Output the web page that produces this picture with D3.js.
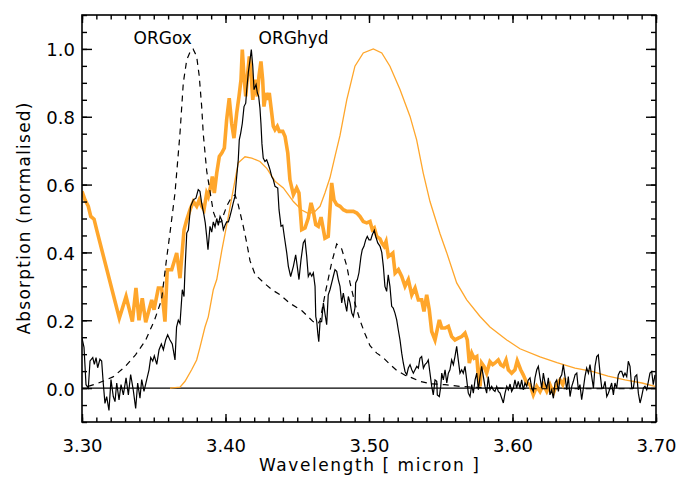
<!DOCTYPE html>
<html>
<head>
<meta charset="utf-8">
<script src="https://cdn.jsdelivr.net/npm/d3@7"></script>
<style>
  body { margin: 0; background: #fff; }
  svg { display: block; font-family: "DejaVu Sans", sans-serif; }
</style>
</head>
<body>
<div id="chart"></div>
<script>
// Absorption spectra, normalised, 3.3 - 3.7 micron

const xMajorTicks = [3.30, 3.40, 3.50, 3.60, 3.70];
const yMajorTicks = [0.0, 0.2, 0.4, 0.6, 0.8, 1.0];

const seriesLabels = [
  { text: 'ORGox', wl: 3.3766, val: 1.015, anchor: 'end' },
  { text: 'ORGhyd', wl: 3.4230, val: 1.015, anchor: 'start' }
];

// black solid: laboratory spectrum (ORGhyd)
const orgHydSpectrum = [
  [3.3000,0.147],[3.3014,0.12],[3.3028,0.01],[3.3044,0.0],[3.3056,0.08],[3.3075,0.09],[3.3086,0.07],
  [3.3098,0.09],[3.3109,0.06],[3.3125,0.085],[3.3137,0.08],[3.3148,0.015],[3.3160,-0.045],[3.3172,-0.025],
  [3.3188,-0.066],[3.3202,0.025],[3.3218,-0.025],[3.3230,-0.04],[3.3242,0.015],[3.3258,-0.035],[3.3272,0.01],
  [3.3288,-0.02],[3.3307,0.03],[3.3323,-0.02],[3.3339,0.04],[3.3357,-0.005],[3.3374,-0.06],[3.3388,0.015],
  [3.3404,-0.03],[3.3416,0.025],[3.3432,-0.01],[3.3451,0.025],[3.3467,0.054],[3.3479,0.09],[3.3493,0.08],
  [3.3504,0.095],[3.3521,0.07],[3.3537,0.113],[3.3553,0.13],[3.3567,0.113],[3.3583,0.142],[3.3597,0.157],
  [3.3613,0.142],[3.3629,0.13],[3.3648,0.083],[3.3659,0.18],[3.3671,0.20],[3.3683,0.19],[3.3699,0.29],
  [3.3711,0.27],[3.3718,0.35],[3.3730,0.457],[3.3741,0.466],[3.3757,0.536],[3.3776,0.555],[3.3794,0.56],
  [3.3810,0.585],[3.3822,0.58],[3.3834,0.545],[3.3850,0.51],[3.3859,0.487],[3.3869,0.447],[3.3878,0.408],
  [3.3892,0.477],[3.3904,0.46],[3.3915,0.49],[3.3927,0.475],[3.3939,0.50],[3.3950,0.48],[3.3962,0.506],
  [3.3974,0.495],[3.3985,0.467],[3.3997,0.48],[3.4008,0.49],[3.4020,0.49],[3.4031,0.506],[3.4043,0.526],
  [3.4054,0.546],[3.4066,0.565],[3.4078,0.624],[3.4089,0.673],[3.4096,0.732],[3.4106,0.752],[3.4117,0.78],
  [3.4129,0.83],[3.4141,0.84],[3.4148,0.88],[3.4159,0.93],[3.4171,0.968],[3.4180,0.998],[3.4190,0.949],
  [3.4199,0.88],[3.4213,0.895],[3.4222,0.87],[3.4231,0.86],[3.4240,0.826],[3.4247,0.78],[3.4254,0.72],
  [3.4263,0.678],[3.4275,0.668],[3.4287,0.673],[3.4298,0.66],[3.4310,0.644],[3.4322,0.624],[3.4333,0.615],
  [3.4345,0.595],[3.4364,0.59],[3.4373,0.526],[3.4387,0.477],[3.4399,0.48],[3.4410,0.447],[3.4427,0.398],
  [3.4438,0.359],[3.4454,0.329],[3.4473,0.359],[3.4489,0.393],[3.4500,0.359],[3.4512,0.32],[3.4526,0.378],
  [3.4542,0.428],[3.4554,0.437],[3.4566,0.388],[3.4577,0.329],[3.4589,0.34],[3.4601,0.33],[3.4612,0.34],
  [3.4624,0.30],[3.4629,0.211],[3.4636,0.196],[3.4643,0.162],[3.4650,0.137],[3.4659,0.196],[3.4670,0.196],
  [3.4682,0.251],[3.4693,0.22],[3.4705,0.187],[3.4716,0.275],[3.4728,0.29],[3.4740,0.31],[3.4751,0.329],
  [3.4763,0.349],[3.4775,0.344],[3.4786,0.32],[3.4798,0.30],[3.4810,0.251],[3.4821,0.28],[3.4833,0.251],
  [3.4845,0.226],[3.4856,0.27],[3.4868,0.251],[3.4880,0.221],[3.4891,0.211],[3.4902,0.236],[3.4907,0.31],
  [3.4919,0.32],[3.4930,0.34],[3.4944,0.388],[3.4953,0.408],[3.4965,0.418],[3.4977,0.437],[3.4988,0.447],
  [3.5000,0.437],[3.5012,0.437],[3.5023,0.452],[3.5037,0.465],[3.5047,0.447],[3.5061,0.428],[3.5077,0.418],
  [3.5089,0.40],[3.5100,0.359],[3.5111,0.30],[3.5123,0.285],[3.5134,0.334],[3.5146,0.30],[3.5158,0.241],
  [3.5169,0.236],[3.5181,0.221],[3.5193,0.201],[3.5204,0.172],[3.5216,0.142],[3.5228,0.103],[3.5239,0.074],
  [3.5251,0.049],[3.5263,0.039],[3.5274,0.059],[3.5286,0.069],[3.5298,0.054],[3.5309,0.044],[3.5321,0.054],
  [3.5333,0.064],[3.5344,0.059],[3.5355,0.088],[3.5367,0.093],[3.5379,0.059],[3.5390,0.069],[3.5402,0.074],
  [3.5413,0.083],[3.5425,0.044],[3.5437,0.005],[3.5448,-0.02],[3.5460,0.024],[3.5472,0.02],[3.5476,-0.02],
  [3.5490,-0.025],[3.5500,0.005],[3.5507,0.044],[3.5518,0.024],[3.5530,0.054],[3.5542,0.015],[3.5553,0.044],
  [3.5564,0.054],[3.5576,0.083],[3.5588,0.069],[3.5599,0.093],[3.5611,0.123],[3.5622,0.083],[3.5634,0.044],
  [3.5646,0.054],[3.5657,0.044],[3.5669,0.064],[3.5681,0.024],[3.5692,-0.015],[3.5704,-0.025],[3.5716,0.01],
  [3.5727,-0.015],[3.5739,0.024],[3.5751,0.044],[3.5762,-0.005],[3.5774,0.034],[3.5785,0.064],[3.5797,0.034],
  [3.5808,0.005],[3.5820,-0.015],[3.5831,0.034],[3.5843,-0.005],[3.5855,0.005],[3.5866,-0.005],[3.5878,-0.01],
  [3.5890,0.005],[3.5901,-0.01],[3.5913,-0.015],[3.5925,-0.03],[3.5936,-0.044],[3.5948,-0.015],[3.5960,0.005],
  [3.5971,-0.005],[3.5983,0.012],[3.5994,-0.01],[3.6006,0.0],[3.6017,0.024],[3.6029,0.0],[3.6040,0.02],
  [3.6052,0.0],[3.6064,0.024],[3.6075,-0.005],[3.6087,0.015],[3.6099,0.005],[3.6110,0.024],[3.6122,0.03],
  [3.6134,0.0],[3.6145,-0.01],[3.6157,0.03],[3.6169,0.054],[3.6180,0.064],[3.6192,0.03],[3.6204,0.0],
  [3.6215,0.044],[3.6227,0.015],[3.6239,0.0],[3.6250,0.03],[3.6261,-0.02],[3.6273,-0.005],[3.6285,-0.03],
  [3.6296,0.015],[3.6308,0.024],[3.6320,-0.01],[3.6331,0.03],[3.6343,0.039],[3.6354,0.069],[3.6366,0.034],
  [3.6378,-0.005],[3.6389,0.034],[3.6401,-0.025],[3.6413,0.005],[3.6424,0.02],[3.6436,0.039],[3.6448,0.044],
  [3.6459,-0.005],[3.6470,0.01],[3.6482,-0.034],[3.6494,0.0],[3.6505,0.034],[3.6517,0.059],[3.6529,0.044],
  [3.6540,0.069],[3.6552,0.034],[3.6564,0.0],[3.6575,0.064],[3.6587,0.093],[3.6598,0.098],[3.6610,0.044],
  [3.6622,0.0],[3.6633,0.0],[3.6645,0.02],[3.6657,-0.025],[3.6668,-0.015],[3.6680,0.0],[3.6691,0.015],
  [3.6703,-0.02],[3.6714,0.015],[3.6726,0.0],[3.6737,0.039],[3.6749,0.049],[3.6761,0.049],[3.6773,0.034],
  [3.6784,0.044],[3.6796,0.034],[3.6807,0.079],[3.6819,0.064],[3.6831,0.0],[3.6842,0.0],[3.6854,0.034],
  [3.6866,0.039],[3.6877,-0.015],[3.6889,-0.044],[3.6900,-0.025],[3.6912,0.0],[3.6923,0.005],[3.6935,-0.005],
  [3.6947,0.02],[3.6958,0.044],[3.6970,0.049],[3.6981,0.01],[3.6993,0.039]
];

// black dashed: ORGox profile
const orgOxProfile = [
  [3.3042,0.005],[3.3105,0.013],[3.3216,0.033],[3.3300,0.063],[3.3373,0.098],[3.3442,0.14],[3.3505,0.20],
  [3.3554,0.26],[3.3589,0.38],[3.3613,0.457],[3.3648,0.575],[3.3683,0.752],[3.3706,0.90],[3.3730,0.968],
  [3.3760,0.998],[3.3774,1.0],[3.3799,0.978],[3.3817,0.92],[3.3834,0.83],[3.3845,0.75],[3.3869,0.64],
  [3.3892,0.58],[3.3915,0.52],[3.3941,0.49],[3.3969,0.49],[3.4008,0.536],[3.4038,0.56],[3.4066,0.57],
  [3.4089,0.54],[3.4124,0.477],[3.4148,0.428],[3.4171,0.375],[3.4206,0.335],[3.4263,0.312],[3.4324,0.29],
  [3.4380,0.275],[3.4449,0.25],[3.4533,0.228],[3.4610,0.196],[3.4645,0.19],[3.4659,0.20],[3.4700,0.29],
  [3.4740,0.37],[3.4775,0.425],[3.4810,0.41],[3.4845,0.36],[3.4868,0.31],[3.4902,0.25],[3.4937,0.20],
  [3.4972,0.16],[3.5007,0.125],[3.5054,0.103],[3.5098,0.09],[3.5146,0.07],[3.5193,0.052],[3.5251,0.038],
  [3.5300,0.03],[3.5355,0.02],[3.5425,0.013],[3.5530,0.01],[3.5634,0.005],[3.5843,0.0],[3.6122,-0.002],
  [3.6470,-0.002],[3.6840,-0.002]
];

// thick orange: observed spectrum, binned
const observedBinned = [
  [3.3000,0.58],[3.3021,0.555],[3.3044,0.536],[3.3061,0.506],[3.3084,0.498],[3.3102,0.467],[3.3260,0.206],
  [3.3307,0.27],[3.3351,0.196],[3.3376,0.295],[3.3397,0.20],[3.3420,0.265],[3.3444,0.194],[3.3486,0.26],
  [3.3502,0.231],[3.3532,0.295],[3.3555,0.295],[3.3578,0.196],[3.3594,0.349],[3.3625,0.349],[3.3660,0.398],
  [3.3683,0.324],[3.3711,0.467],[3.3730,0.496],[3.3753,0.526],[3.3776,0.55],[3.3799,0.536],[3.3817,0.555],
  [3.3834,0.536],[3.3850,0.526],[3.3869,0.575],[3.3880,0.565],[3.3897,0.595],[3.3908,0.624],[3.3922,0.575],
  [3.3939,0.634],[3.3957,0.683],[3.3974,0.693],[3.3992,0.708],[3.4008,0.791],[3.4026,0.855],[3.4043,0.78],
  [3.4059,0.737],[3.4078,0.811],[3.4094,0.86],[3.4108,0.909],[3.4117,0.998],[3.4129,0.919],[3.4141,0.86],
  [3.4155,0.929],[3.4166,0.978],[3.4178,0.929],[3.4190,0.85],[3.4206,0.909],[3.4222,0.86],[3.4233,0.919],
  [3.4247,0.963],[3.4259,0.909],[3.4268,0.83],[3.4282,0.87],[3.4294,0.85],[3.4305,0.87],[3.4322,0.811],
  [3.4333,0.772],[3.4345,0.762],[3.4361,0.772],[3.4375,0.757],[3.4399,0.757],[3.4415,0.742],[3.4434,0.693],
  [3.4449,0.614],[3.4473,0.57],[3.4496,0.59],[3.4512,0.575],[3.4531,0.467],[3.4554,0.472],[3.4577,0.501],
  [3.4596,0.546],[3.4612,0.521],[3.4629,0.482],[3.4647,0.477],[3.4666,0.504],[3.4682,0.467],[3.4693,0.442],
  [3.4716,0.447],[3.4740,0.605],[3.4756,0.555],[3.4775,0.541],[3.4798,0.536],[3.4821,0.526],[3.4845,0.521],
  [3.4868,0.521],[3.4891,0.521],[3.4915,0.516],[3.4937,0.506],[3.4960,0.491],[3.4984,0.487],[3.5007,0.491],
  [3.5023,0.467],[3.5037,0.472],[3.5054,0.447],[3.5077,0.44],[3.5089,0.428],[3.5105,0.418],[3.5119,0.432],
  [3.5135,0.388],[3.5152,0.393],[3.5166,0.398],[3.5182,0.339],[3.5205,0.349],[3.5228,0.329],[3.5251,0.30],
  [3.5274,0.32],[3.5298,0.275],[3.5321,0.295],[3.5344,0.26],[3.5367,0.26],[3.5383,0.226],[3.5402,0.275],
  [3.5420,0.231],[3.5437,0.167],[3.5460,0.142],[3.5490,0.201],[3.5507,0.177],[3.5530,0.177],[3.5553,0.182],
  [3.5576,0.152],[3.5599,0.142],[3.5622,0.147],[3.5646,0.152],[3.5669,0.162],[3.5685,0.142],[3.5699,0.074],
  [3.5716,0.103],[3.5732,0.088],[3.5751,0.093],[3.5762,0.034],[3.5774,0.005],[3.5785,0.074],[3.5801,0.064],
  [3.5820,0.044],[3.5843,0.078],[3.5862,0.069],[3.5878,0.074],[3.5901,0.083],[3.5918,0.069],[3.5936,0.064],
  [3.5955,0.083],[3.5971,0.054],[3.5994,0.044],[3.6017,0.054],[3.6033,0.08],[3.6057,0.054],[3.6075,0.039],
  [3.6099,0.015],[3.6122,0.01],[3.6145,-0.02],[3.6169,0.005],[3.6192,-0.01],[3.6215,0.01],[3.6239,-0.01],
  [3.6261,0.01],[3.6285,-0.015],[3.6308,0.01],[3.6331,0.024],[3.6350,0.01],[3.6366,0.03]
];

// thin orange: smooth model profile
const modelProfile = [
  [3.3613,0.0],[3.3683,0.003],[3.3718,0.02],[3.3764,0.054],[3.3799,0.083],[3.3822,0.12],[3.3857,0.18],
  [3.3880,0.21],[3.3915,0.29],[3.3939,0.32],[3.3974,0.405],[3.4020,0.506],[3.4054,0.585],[3.4089,0.664],
  [3.4136,0.682],[3.4183,0.678],[3.4240,0.668],[3.4289,0.647],[3.4345,0.61],[3.4403,0.59],[3.4473,0.55],
  [3.4531,0.525],[3.4575,0.515],[3.4617,0.518],[3.4659,0.536],[3.4693,0.575],[3.4728,0.62],[3.4763,0.683],
  [3.4798,0.745],[3.4845,0.85],[3.4902,0.949],[3.4960,0.988],[3.5030,1.0],[3.5089,0.988],[3.5146,0.949],
  [3.5216,0.88],[3.5286,0.801],[3.5332,0.732],[3.5378,0.634],[3.5425,0.55],[3.5495,0.455],[3.5541,0.40],
  [3.5611,0.31],[3.5681,0.26],[3.5774,0.211],[3.5843,0.18],[3.5960,0.142],[3.6052,0.116],[3.6192,0.092],
  [3.6310,0.075],[3.6436,0.059],[3.6554,0.049],[3.6666,0.035],[3.6784,0.024],[3.6902,0.015],[3.6993,0.005]
];

const ORANGE = '#ffa62b';

function drawChart() {
  const W = 679, H = 477;
  const plot = { left: 82, right: 656, top: 15, bottom: 422 };

  const svg = d3.select('#chart').append('svg')
    .attr('width', W)
    .attr('height', H);

  const x = d3.scaleLinear().domain([3.30, 3.70]).range([plot.left, plot.right]);
  const y = d3.scaleLinear().domain([-0.1, 1.1]).range([plot.bottom, plot.top]);

  svg.append('defs').append('clipPath').attr('id', 'plot-clip')
    .append('rect')
    .attr('x', plot.left).attr('y', plot.top)
    .attr('width', plot.right - plot.left)
    .attr('height', plot.bottom - plot.top);

  const line = d3.line().x(d => x(d[0])).y(d => y(d[1]));

  const g = svg.append('g').attr('clip-path', 'url(#plot-clip)');

  // zero line
  g.append('line')
    .attr('x1', plot.left).attr('x2', plot.right)
    .attr('y1', y(0)).attr('y2', y(0))
    .attr('stroke', '#000').attr('stroke-width', 1.2);

  g.append('path').datum(modelProfile)
    .attr('d', line).attr('fill', 'none')
    .attr('stroke', ORANGE).attr('stroke-width', 1.3);

  g.append('path').datum(observedBinned)
    .attr('d', line).attr('fill', 'none')
    .attr('stroke', ORANGE).attr('stroke-width', 3.6)
    .attr('stroke-linejoin', 'miter');

  g.append('path').datum(orgOxProfile)
    .attr('d', line).attr('fill', 'none')
    .attr('stroke', '#000').attr('stroke-width', 1.2)
    .attr('stroke-dasharray', '6,5');

  g.append('path').datum(orgHydSpectrum)
    .attr('d', line).attr('fill', 'none')
    .attr('stroke', '#000').attr('stroke-width', 1.2);

  // axes (ticks point inward, mirrored on all sides)
  const xMinor = d3.range(41).map(i => 3.30 + i * 0.01);
  const yMinor = d3.range(25).map(i => -0.1 + i * 0.05);

  function styleAxis(sel) {
    sel.select('.domain').remove();
    sel.selectAll('line').attr('stroke', '#000').attr('stroke-width', 1.4);
  }

  // bottom
  svg.append('g').attr('transform', `translate(0,${plot.bottom})`)
    .call(d3.axisBottom(x).tickValues(xMinor).tickSize(-4.5).tickFormat(''))
    .call(styleAxis);
  const xAxisG = svg.append('g').attr('transform', `translate(0,${plot.bottom})`)
    .call(d3.axisBottom(x).tickValues(xMajorTicks).tickSize(-8).tickFormat(d3.format('.2f')))
    .call(styleAxis);
  xAxisG.selectAll('text')
    .attr('y', 30).attr('dy', null)
    .attr('fill', '#000')
    .style('font-size', '18px')
    .style('font-family', '"DejaVu Sans", sans-serif');

  // top
  svg.append('g').attr('transform', `translate(0,${plot.top})`)
    .call(d3.axisTop(x).tickValues(xMinor).tickSize(-4.5).tickFormat(''))
    .call(styleAxis);
  svg.append('g').attr('transform', `translate(0,${plot.top})`)
    .call(d3.axisTop(x).tickValues(xMajorTicks).tickSize(-8).tickFormat(''))
    .call(styleAxis);

  // left
  svg.append('g').attr('transform', `translate(${plot.left},0)`)
    .call(d3.axisLeft(y).tickValues(yMinor).tickSize(-5).tickFormat(''))
    .call(styleAxis);
  const yAxisG = svg.append('g').attr('transform', `translate(${plot.left},0)`)
    .call(d3.axisLeft(y).tickValues(yMajorTicks).tickSize(-10).tickFormat(d3.format('.1f')))
    .call(styleAxis);
  yAxisG.selectAll('text')
    .attr('x', -7).attr('dy', 7)
    .attr('fill', '#000')
    .style('font-size', '18px')
    .style('font-family', '"DejaVu Sans", sans-serif');

  // right
  svg.append('g').attr('transform', `translate(${plot.right},0)`)
    .call(d3.axisRight(y).tickValues(yMinor).tickSize(-5).tickFormat(''))
    .call(styleAxis);
  svg.append('g').attr('transform', `translate(${plot.right},0)`)
    .call(d3.axisRight(y).tickValues(yMajorTicks).tickSize(-10).tickFormat(''))
    .call(styleAxis);

  // frame
  svg.append('rect')
    .attr('x', plot.left).attr('y', plot.top)
    .attr('width', plot.right - plot.left)
    .attr('height', plot.bottom - plot.top)
    .attr('fill', 'none').attr('stroke', '#000').attr('stroke-width', 1.6);

  // axis titles
  svg.append('text')
    .attr('x', (plot.left + plot.right) / 2)
    .attr('y', 471)
    .attr('text-anchor', 'middle')
    .attr('textLength', 220)
    .attr('lengthAdjust', 'spacing')
    .style('font-size', '17px')
    .text('Wavelength [ micron ]');

  svg.append('text')
    .attr('transform', `translate(30,${(plot.top + plot.bottom) / 2}) rotate(-90)`)
    .attr('text-anchor', 'middle')
    .attr('textLength', 232)
    .attr('lengthAdjust', 'spacing')
    .style('font-size', '17px')
    .text('Absorption (normalised)');

  // series labels
  svg.selectAll('.series-label')
    .data(seriesLabels)
    .enter().append('text')
    .attr('class', 'series-label')
    .attr('x', d => x(d.wl))
    .attr('y', d => y(d.val))
    .attr('text-anchor', d => d.anchor)
    .style('font-size', '17px')
    .text(d => d.text);
}

drawChart();
</script>
</body>
</html>
